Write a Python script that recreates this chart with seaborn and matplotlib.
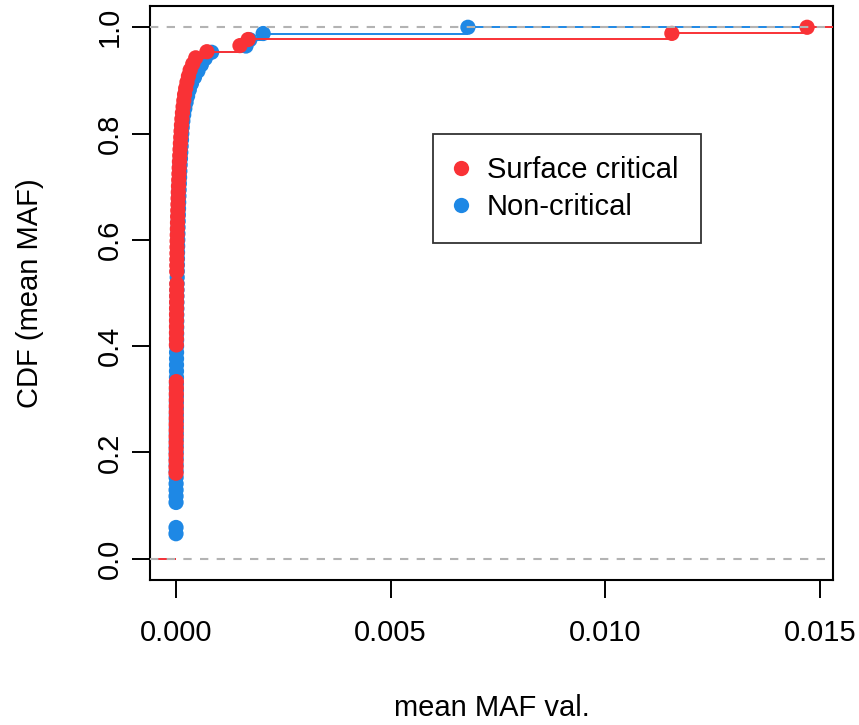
import numpy as np
import pandas as pd
import matplotlib
matplotlib.use("Agg")
import matplotlib.pyplot as plt
import seaborn as sns
from matplotlib.lines import Line2D

# ---- data (mean MAF values per group) ----
surface_critical = (
    [0.0] * 14
    + [1.0e-6, 1.5e-6, 2.0e-6, 2.5e-6, 3.0e-6, 3.5e-6, 4.0e-6, 4.5e-6,
       5.0e-6, 5.5e-6, 6.0e-6, 6.5e-6, 7.0e-6, 7.5e-6, 8.0e-6]
    + [9.0e-6] * 6
    + [1.0e-5, 1.05e-5, 1.1e-5, 1.15e-5, 1.2e-5, 1.3e-5, 1.4e-5, 1.5e-5,
       1.6e-5, 1.7e-5]
    + [1.8e-5] * 2
    + [1.9e-5, 2.0e-5, 2.2e-5, 2.4e-5, 2.6e-5, 2.9e-5, 3.2e-5, 3.5e-5,
       3.8e-5, 4.1e-5, 4.5e-5, 4.9e-5, 5.3e-5, 5.8e-5, 6.3e-5, 6.8e-5,
       7.4e-5, 8.0e-5, 8.7e-5, 9.4e-5, 1.02e-4, 1.10e-4, 1.18e-4]
    + [1.27e-4, 1.37e-4, 1.5e-4, 1.65e-4, 1.82e-4, 2.0e-4, 2.25e-4, 2.55e-4,
       2.9e-4, 3.3e-4, 3.9e-4, 4.6e-4]
    + [7.2e-4, 1.49e-3, 1.68e-3, 1.155e-2, 1.47e-2]
)

non_critical = (
    [0.0] * 4
    + [5.0e-7]
    + [1.0e-6] * 4
    + [1.5e-6, 2.0e-6, 2.5e-6, 3.0e-6, 3.5e-6, 4.0e-6, 4.5e-6, 5.0e-6,
       5.5e-6, 6.0e-6]
    + [6.5e-6, 7.0e-6, 7.5e-6, 8.0e-6, 8.5e-6, 9.0e-6, 9.5e-6]
    + [1.0e-5, 1.05e-5, 1.1e-5, 1.15e-5, 1.2e-5, 1.25e-5, 1.3e-5, 1.4e-5,
       1.5e-5, 1.6e-5]
    + [1.7e-5, 1.8e-5, 1.9e-5, 2.0e-5, 2.1e-5, 2.2e-5, 2.4e-5, 2.6e-5,
       2.8e-5, 3.0e-5]
    + [3.2e-5, 3.4e-5, 3.6e-5, 3.9e-5, 4.2e-5, 4.5e-5, 4.8e-5, 5.1e-5,
       5.5e-5, 5.9e-5]
    + [6.3e-5, 6.8e-5, 7.3e-5, 7.8e-5, 8.4e-5, 9.0e-5, 9.7e-5, 1.04e-4,
       1.12e-4, 1.20e-4, 1.28e-4, 1.36e-4]
    + [1.45e-4, 1.6e-4, 1.8e-4, 2.05e-4, 2.35e-4, 2.7e-4, 3.1e-4, 3.6e-4,
       4.3e-4, 5.1e-4, 5.9e-4, 6.8e-4, 8.3e-4]
    + [1.63e-3, 1.72e-3, 2.03e-3, 6.8e-3]
)

groups = ["Non-critical", "Surface critical"]   # drawing order
legend_order = ["Surface critical", "Non-critical"]
colors = {"Surface critical": "#F93236", "Non-critical": "#1E88E5"}
x_ticks = [0.000, 0.005, 0.010, 0.015]
x_tick_labels = ["0.000", "0.005", "0.010", "0.015"]
y_ticks = [0.0, 0.2, 0.4, 0.6, 0.8, 1.0]
y_tick_labels = ["0.0", "0.2", "0.4", "0.6", "0.8", "1.0"]

# ---- styling ----
sns.set_style("white")
plt.rcParams["font.family"] = ["Liberation Sans", "DejaVu Sans"]
plt.rcParams["text.color"] = "black"
plt.rcParams["axes.labelcolor"] = "black"

FS = 21

fig = plt.figure(figsize=(8.59, 7.25), dpi=100)
ax = fig.add_axes([0.1746, 0.2, 0.7951, 0.7917])

XMIN, XMAX = -0.000606, 0.015303
ax.set_xlim(XMIN, XMAX)
ax.set_ylim(-0.04, 1.04)

series = {"Surface critical": surface_critical, "Non-critical": non_critical}

z = 2
for g in groups:
    vals = np.sort(np.asarray(series[g], dtype=float))
    n = len(vals)
    ux, counts = np.unique(vals, return_counts=True)
    F = np.cumsum(counts) / n
    df = pd.DataFrame({"x": ux, "F": F})
    # horizontal steps (R plot.ecdf style, no verticals)
    starts = np.concatenate([[XMIN], ux])
    ends = np.concatenate([ux, [XMAX]])
    levels = np.concatenate([[0.0], F])
    ax.hlines(levels, starts, ends, colors=colors[g], lw=1.4, zorder=z)
    sns.scatterplot(data=df, x="x", y="F", ax=ax, color=colors[g], s=120,
                    edgecolor="none", linewidth=0, zorder=z + 1, legend=False)
    z += 2

for h in (0.0, 1.0):
    ax.axhline(h, color="#B3B3B3", lw=1.5, ls=(0, (4, 4)), zorder=10)

ax.set_xticks(x_ticks)
ax.set_xticklabels(x_tick_labels)
ax.set_yticks(y_ticks)
ax.set_yticklabels(y_tick_labels, rotation=90, va="center")
ax.tick_params(axis="both", direction="out", length=13, width=1.4,
               labelsize=FS, color="black", labelcolor="black",
               bottom=True, left=True)
ax.tick_params(axis="x", pad=15)
ax.tick_params(axis="y", pad=6)
for sp in ax.spines.values():
    sp.set_visible(True)
    sp.set_color("black")
    sp.set_linewidth(1.5)

ax.set_xlabel("mean MAF val.", fontsize=FS, labelpad=34, color="black")
ax.set_ylabel("CDF (mean MAF)", fontsize=FS, labelpad=37, color="black")

handles = [Line2D([0], [0], marker="o", ls="none", color=colors[g],
                  markersize=11, markeredgewidth=0) for g in legend_order]
leg = ax.legend(handles, legend_order, loc="upper left",
                bbox_to_anchor=(0.4143, 0.777), fontsize=FS, frameon=True,
                fancybox=False, edgecolor="black", borderpad=0.755,
                labelspacing=0.3, handlelength=0.42, handletextpad=0.68,
                borderaxespad=0)
leg.get_frame().set_linewidth(1.3)
for t in leg.get_texts():
    t.set_color("black")

fig.savefig("out.png", dpi=100)
